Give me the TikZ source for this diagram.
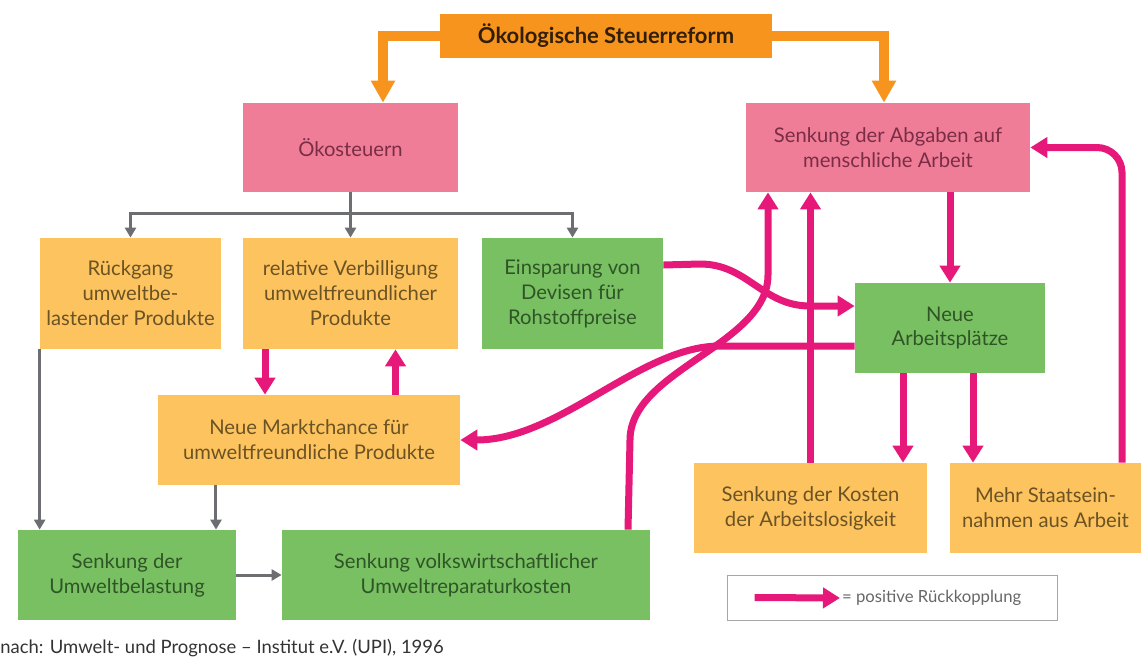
\documentclass[tikz,border=0pt]{standalone}
\usepackage{fontspec}
\setmainfont{Lato}
\usetikzlibrary{arrows.meta}

\definecolor{reformorange}{HTML}{F7941D}
\definecolor{taxpink}{HTML}{F07D97}
\definecolor{taxpinktext}{HTML}{7A2D45}
\definecolor{effectyellow}{HTML}{FDC35F}
\definecolor{effectyellowtext}{HTML}{6B5324}
\definecolor{effectgreen}{HTML}{79C063}
\definecolor{effectgreentext}{HTML}{2F5526}
\definecolor{loopmagenta}{HTML}{E6197A}
\definecolor{linkgrey}{HTML}{6D6E71}

\begin{document}
\begin{tikzpicture}[x=0.2mm, y=-0.2mm,
  box/.style={inner sep=2pt, align=center, font=\fontsize{11.5}{14.2}\selectfont},
  pinkbox/.style={box, fill=taxpink, text=taxpinktext},
  yellowbox/.style={box, fill=effectyellow, text=effectyellowtext},
  greenbox/.style={box, fill=effectgreen, text=effectgreentext},
  reform/.style={line width=2mm, draw=reformorange, -{Triangle[width=4.6mm,length=4.4mm]}},
  link/.style={line width=0.6mm, draw=linkgrey, -{Triangle[width=2.2mm,length=2mm]}},
  loop/.style={line width=1.4mm, draw=loopmagenta, -{Triangle[width=4mm,length=3.4mm]}}]
\useasboundingbox (0,0) rectangle (1141,660);

% top row
\node[fill=reformorange, text=black!80!reformorange, font=\fontsize{12.5}{15}\selectfont\bfseries,
  minimum width=66.4mm, minimum height=8.8mm] (reform) at (606,36) {Ökologische Steuerreform};
\node[pinkbox, minimum width=43mm, minimum height=17.8mm] (oeko) at (350.5,147.5) {Ökosteuern};
\node[pinkbox, minimum width=56.8mm, minimum height=17.8mm] (abgaben) at (888,147.5)
  {Senkung der Abgaben auf\\menschliche Arbeit};

% direct effects of the eco taxes
\node[yellowbox, minimum width=36.2mm, minimum height=22.2mm] (rueckgang) at (130.5,293.5)
  {Rückgang\\umweltbe-\\lastender Produkte};
\node[yellowbox, minimum width=43mm, minimum height=22.2mm] (verbill) at (350.5,293.5)
  {relative Verbilligung\\umweltfreundlicher\\Produkte};
\node[greenbox, minimum width=36.2mm, minimum height=22.2mm] (devisen) at (572.5,293.5)
  {Einsparung von\\Devisen für\\Rohstoffpreise};
\node[greenbox, minimum width=38mm, minimum height=18mm] (jobs) at (950,328)
  {Neue\\Arbeitsplätze};

% lower rows
\node[yellowbox, minimum width=60.4mm, minimum height=18mm] (markt) at (309,440)
  {Neue Marktchance für\\umweltfreundliche Produkte};
\node[greenbox, minimum width=43.6mm, minimum height=18mm] (umwelt) at (127,575)
  {Senkung der\\Umweltbelastung};
\node[greenbox, minimum width=73.6mm, minimum height=18mm] (reparatur) at (466,575)
  {Senkung volkswirtschaftlicher\\Umweltreparaturkosten};
\node[yellowbox, minimum width=46.6mm, minimum height=18mm] (kosten) at (810.5,508)
  {Senkung der Kosten\\der Arbeitslosigkeit};
\node[yellowbox, minimum width=38.2mm, minimum height=18mm] (staat) at (1045.5,508)
  {Mehr Staatsein-\\nahmen aus Arbeit};

% legend and source
\node[draw=black!35, line width=0.4pt, minimum width=66mm, minimum height=9mm] (legend) at (892,597.5) {};
\node[anchor=west, inner sep=1pt, text=black!60, font=\fontsize{9.5}{11}\selectfont] (legtext) at (840,598)
  {= positive Rückkopplung};
\node[anchor=west, inner sep=0pt, text=black!80, font=\fontsize{10.5}{12}\selectfont] (source) at (0,648)
  {nach: Umwelt- und Prognose -- Institut e.V. (UPI), 1996};

% orange split from the reform
\draw[reform] (reform.west) -| ([xshift=6.5mm]oeko.north);
\draw[reform] (reform.east) -| ([xshift=-0.8mm]abgaben.north);

% grey links
\coordinate (split) at (350.5,213);
\draw[link, -] (oeko.south) -- (split);
\draw[link] (split) -| (rueckgang.north);
\draw[link] (split) -- (verbill.north);
\draw[link] (split) -| (devisen.north);
\draw[link] (rueckgang.south west) -- (rueckgang.south west |- umwelt.north);
\draw[link] ([xshift=-18.6mm]markt.south) -- ([xshift=-18.6mm]markt.south |- umwelt.north);
\draw[link] (umwelt.east) -- (reparatur.west);

% positive feedback
\draw[loop] ([xshift=-17.1mm]verbill.south) -- ([xshift=-17.1mm]verbill.south |- markt.north);
\draw[loop] ([xshift=17.3mm]markt.north) -- ([xshift=17.3mm]markt.north |- verbill.south);
\draw[loop] ([yshift=5.7mm]devisen.east) -- (700,264) .. controls (748,264) and (762,306) .. (810,306)
  -- ([yshift=4.4mm]jobs.west);
\draw[loop] ([yshift=-3.6mm]jobs.west) -- (720,346) .. controls (640,346) and (560,440) .. (markt.east);
\draw[loop] ([xshift=32.4mm]reparatur.north) -- (630,440) .. controls (630,370) and (768,345) .. (768,275)
  -- ([xshift=-24mm]abgaben.south);
\draw[loop] (kosten.north) -- (kosten.north |- abgaben.south);
\draw[loop] (abgaben.south -| jobs.north) -- (jobs.north);
\draw[loop] ([xshift=-9.4mm]jobs.south) -- ([xshift=-9.4mm]jobs.south |- kosten.north);
\draw[loop] ([xshift=4.6mm]jobs.south) -- ([xshift=4.6mm]jobs.south |- staat.north);
\draw[loop, rounded corners=5mm] ([xshift=15.3mm]staat.north) |- (abgaben.east);
\draw[loop] ([xshift=5.6mm]legend.west) -- (legtext.west);
\end{tikzpicture}
\end{document}
